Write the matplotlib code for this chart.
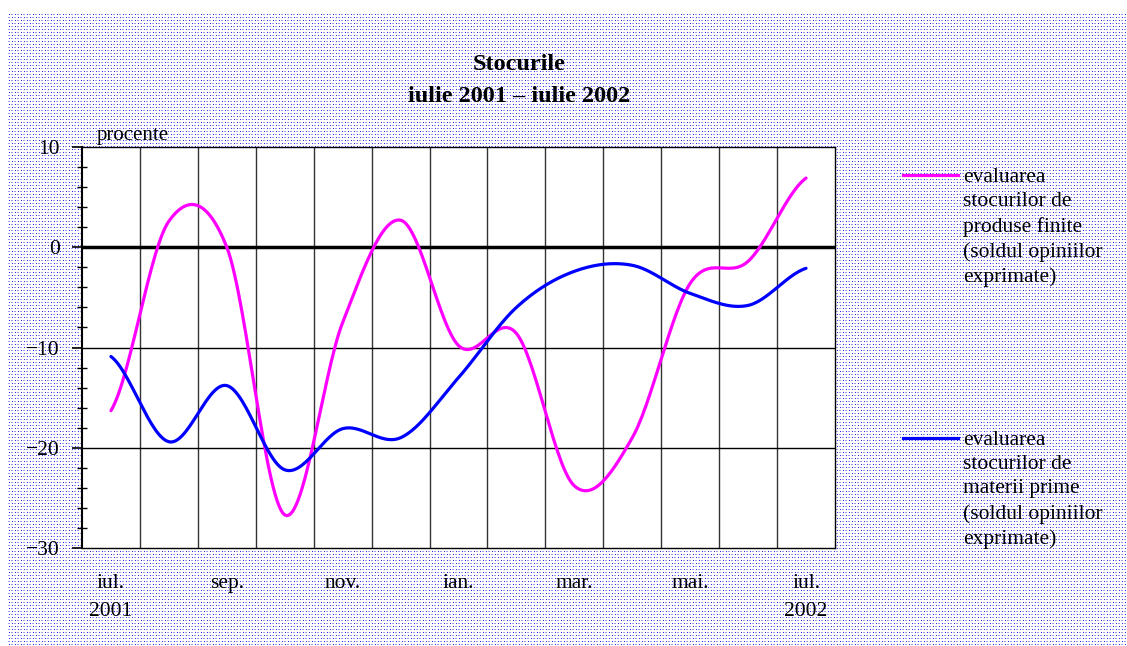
import numpy as np
import matplotlib
matplotlib.use("Agg")
from matplotlib import pyplot as plt
from matplotlib.lines import Line2D
from matplotlib.ticker import MultipleLocator

months = ["iul.", "aug.", "sep.", "oct.", "nov.", "dec.", "ian.",
          "feb.", "mar.", "apr.", "mai.", "iun.", "iul."]
tick_labels = ["iul.\n2001", "sep.", "nov.", "ian.", "mar.", "mai.", "iul.\n2002"]
produse_finite = [-16.3, 2.6, 0.0, -26.7, -7.5, 2.7, -9.8, -8.6,
                  -23.8, -19.0, -3.6, -1.4, 6.9]
materii_prime = [-10.9, -19.4, -13.8, -22.2, -18.1, -19.0, -13.0, -6.0,
                 -2.4, -1.8, -4.6, -5.8, -2.1]

legend_finite = "evaluarea\nstocurilor de\nproduse finite\n(soldul opiniilor\nexprimate)"
legend_prime = "evaluarea\nstocurilor de\nmaterii prime\n(soldul opiniilor\nexprimate)"

plt.rcParams['font.family'] = ['Liberation Serif', 'DejaVu Serif']


def smooth(y, n=30):
    # catmull-rom, like the spreadsheet "smoothed line"
    y = np.asarray(y, float)
    x = np.arange(len(y), dtype=float)
    p = np.concatenate([[y[0]], y, [y[-1]]])
    xs, ys = [], []
    t = np.linspace(0, 1, n, endpoint=False)
    for i in range(len(y) - 1):
        p0, p1, p2, p3 = p[i], p[i + 1], p[i + 2], p[i + 3]
        yy = 0.5 * (2 * p1 + (-p0 + p2) * t + (2 * p0 - 5 * p1 + 4 * p2 - p3) * t ** 2
                    + (-p0 + 3 * p1 - 3 * p2 + p3) * t ** 3)
        xs.append(x[i] + t)
        ys.append(yy)
    xs.append([x[-1]])
    ys.append([y[-1]])
    return np.concatenate(xs), np.concatenate(ys)


W, H = 1127, 646
fig = plt.figure(figsize=(W / 100, H / 100), dpi=100)
fig.patch.set_facecolor("white")

# stippled background
bh, bw = H - 13, W - 8
bg = np.ones((bh, bw, 3))
rr, cc = np.mgrid[0:bh, 0:bw]
dark = ((rr % 6 == 1) & (cc % 6 == 1)) | ((rr % 6 == 4) & (cc % 6 == 4))
light = ((rr % 6 == 1) & ((cc % 6 == 3) | (cc % 6 == 4))) | \
        ((rr % 6 == 4) & ((cc % 6 == 0) | (cc % 6 == 1)))
bg[light] = [0.62, 0.62, 0.92]
bg[dark] = [0.15, 0.15, 0.95]
fig.figimage(bg, xo=8, yo=0, origin="upper", zorder=-5)

ax = fig.add_axes([82 / W, 1 - 548 / H, (835 - 82) / W, (548 - 147) / H])
ax.set_facecolor("white")

x = np.arange(len(months))
xf, yf = smooth(produse_finite)
xb, yb = smooth(materii_prime)
ax.plot(xf, yf, color="#ff00ff", lw=2.3, zorder=4, solid_capstyle="round")
ax.plot(xb, yb, color="#0000ff", lw=2.3, zorder=4, solid_capstyle="round")

ax.set_xlim(-0.5, len(months) - 0.5)
ax.set_ylim(-30, 10)

for b in np.arange(0.5, len(months) - 0.5, 1):
    ax.axvline(b, color="#333333", lw=1.0, zorder=1)
for v in [-10, -20]:
    ax.axhline(v, color="black", lw=1.0, zorder=1)
ax.axhline(0, color="black", lw=2.5, zorder=3)

ax.yaxis.set_minor_locator(MultipleLocator(2))
ax.set_yticks([10, 0, -10, -20, -30])
ax.set_yticklabels(["10", "0", "\u221210", "\u221220", "\u221230"], fontsize=15.5)
ax.tick_params(axis="y", which="major", direction="out", length=7, width=1.2, pad=9)
ax.tick_params(axis="y", which="minor", direction="inout", length=7, width=1.0)

ax.set_xticks(x[::2])
ax.set_xticklabels(tick_labels, fontsize=15.5, linespacing=1.6, va="top")
ax.tick_params(axis="x", length=0, pad=19)

for s in ax.spines.values():
    s.set_color("black")
    s.set_linewidth(1.0)
ax.spines["left"].set_linewidth(1.5)

ax.text(0.02, 1.005, "procente", transform=ax.transAxes, fontsize=15,
        ha="left", va="bottom")

fig.text(519 / W, 1 - 64 / H, "Stocurile", fontsize=17.5, fontweight="bold",
         ha="center", va="center")
fig.text(519 / W, 1 - 97 / H, "iulie 2001 \u2013 iulie 2002", fontsize=17.5,
         fontweight="bold", ha="center", va="center")

fig.add_artist(Line2D([903 / W, 958 / W], [1 - 175 / H, 1 - 175 / H],
                      color="#ff00ff", lw=2.3, transform=fig.transFigure))
fig.text(963 / W, 1 - 168 / H, legend_finite, fontsize=15.5, ha="left", va="top",
         linespacing=1.37)
fig.add_artist(Line2D([903 / W, 958 / W], [1 - 438 / H, 1 - 438 / H],
                      color="#0000ff", lw=2.3, transform=fig.transFigure))
fig.text(963 / W, 1 - 431 / H, legend_prime, fontsize=15.5, ha="left", va="top",
         linespacing=1.37)

fig.savefig("out.png", dpi=100)
